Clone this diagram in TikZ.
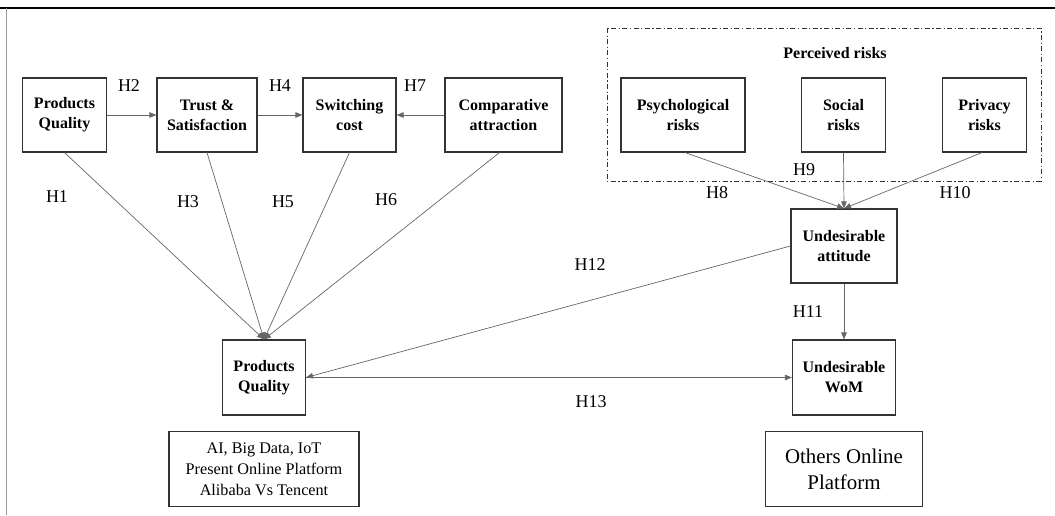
\documentclass[tikz,border=0pt]{standalone}
\usepackage{fontspec}
\setmainfont{Liberation Serif}
\usetikzlibrary{arrows.meta}
\tikzset{
  box/.style={draw=black!80, line width=1.1pt, align=center, inner sep=2pt,
    font=\fontsize{16}{20}\selectfont\bfseries},
  plainbox/.style={draw=black!80, line width=1.1pt, align=center, inner sep=2pt},
  conn/.style={draw=black!60, line width=0.7pt, -{Triangle[length=7pt,width=5.5pt]}},
  hlab/.style={font=\fontsize{18}{20}\selectfont, inner sep=0pt},
}
\begin{document}
\begin{tikzpicture}[x=1pt,y=-1pt]
\useasboundingbox (0,0) rectangle (1055,515);
% frame
\draw[black, line width=1.4pt] (0,8) -- (1055,8);
\draw[black!40, line width=1pt] (6.5,8) -- (6.5,515);
% dashed group
\draw[black!80, line width=1pt, dash pattern=on 5pt off 2.5pt on 1.2pt off 2.5pt] (607,28) rectangle (1041,181);
\node[font=\fontsize{16}{20}\selectfont\bfseries] (pr) at (835,53) {Perceived risks};
% nodes
\node[box, minimum width=84pt, minimum height=74pt] (pq1) at (64.5,115) {Products\\Quality};
\node[box, minimum width=100pt, minimum height=74pt] (ts) at (207,115) {Trust \&\\Satisfaction};
\node[box, minimum width=93pt, minimum height=74pt] (sc) at (349.5,115) {Switching\\cost};
\node[box, minimum width=117pt, minimum height=74pt] (ca) at (503.5,115) {Comparative\\attraction};
\node[box, minimum width=124pt, minimum height=74pt] (psy) at (683,115) {Psychological\\risks};
\node[box, minimum width=84pt, minimum height=74pt] (soc) at (843.5,115) {Social\\risks};
\node[box, minimum width=84pt, minimum height=74pt] (pri) at (984.5,115) {Privacy\\risks};
\node[box, minimum width=106pt, minimum height=74pt] (ua) at (844,246) {Undesirable\\attitude};
\node[box, minimum width=103pt, minimum height=75pt] (wom) at (844,377.5) {Undesirable\\WoM};
\node[box, minimum width=83pt, minimum height=75pt] (pq2) at (264,377.5) {Products\\Quality};
\node[plainbox, minimum width=190pt, minimum height=75pt, font=\fontsize{16.2}{21}\selectfont] (ai) at (264,469) {AI, Big Data, IoT\\Present Online Platform\\Alibaba Vs Tencent};
\node[plainbox, minimum width=157pt, minimum height=75pt, font=\fontsize{20.9}{25.7}\selectfont] (oop) at (844,469) {Others Online\\Platform};
% connectors
\draw[conn] (pq1) -- (ts);
\draw[conn] (ts) -- (sc);
\draw[conn] (ca) -- (sc);
\draw[conn] (pq1.south) -- (pq2.north);
\draw[conn] (ts.south) -- (pq2.north);
\draw[conn] (sc.south) -- (pq2.north);
\draw[conn] ([xshift=-4pt]ca.south) -- (pq2.north);
\draw[conn] ([xshift=2pt]psy.south) -- (ua.north);
\draw[conn] (soc.south) -- (ua.north);
\draw[conn] ([xshift=-2.5pt]pri.south) -- (ua.north);
\draw[conn] (ua) -- (wom);
\draw[conn] (ua.west) -- (pq2.east);
\draw[conn] (pq2.east) -- (wom.west);
% labels
\node[hlab] (h1) at (57,197) {H1};
\node[hlab] (h2) at (129,86) {H2};
\node[hlab] (h3) at (188,202) {H3};
\node[hlab] (h4) at (280,86) {H4};
\node[hlab] (h5) at (283,202) {H5};
\node[hlab] (h6) at (386,200) {H6};
\node[hlab] (h7) at (415,86) {H7};
\node[hlab] (h8) at (717,193) {H8};
\node[hlab] (h9) at (804,170) {H9};
\node[hlab] (h10) at (955,193) {H10};
\node[hlab] (h11) at (808,312) {H11};
\node[hlab] (h12) at (590,265) {H12};
\node[hlab] (h13) at (591,402) {H13};
\end{tikzpicture}
\end{document}
